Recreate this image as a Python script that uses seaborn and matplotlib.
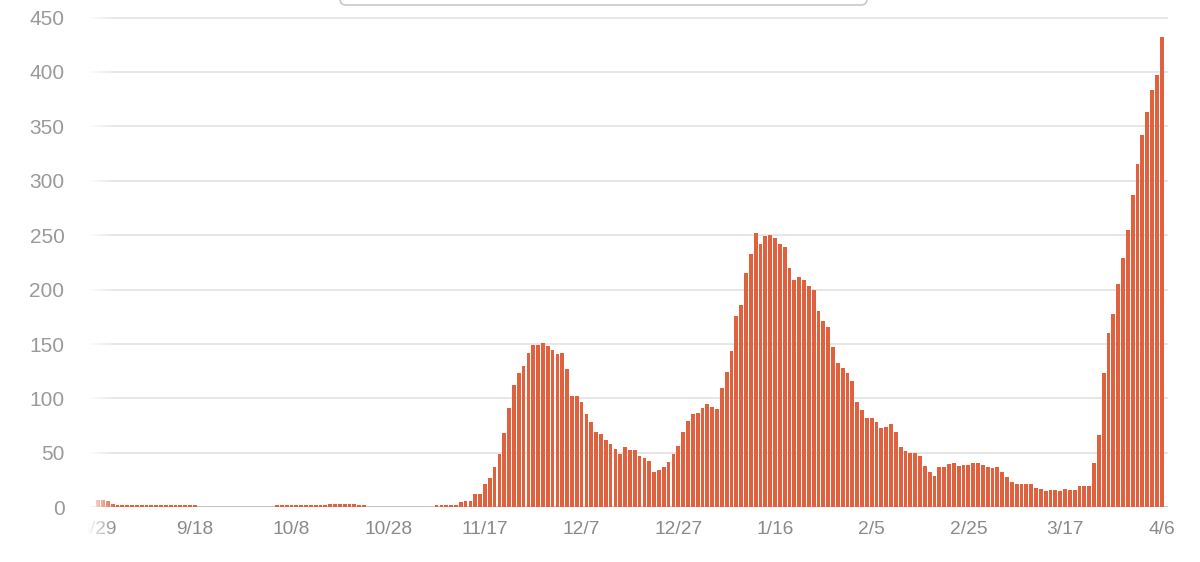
import numpy as np
import pandas as pd
import matplotlib
matplotlib.use("Agg")
import matplotlib.pyplot as plt
import seaborn as sns
from matplotlib.patches import FancyBboxPatch
from matplotlib.transforms import IdentityTransform

# --- data: daily counts 8/29 -> 4/6 ---
start_date = "2021-08-29"
cases = (
    [7, 7, 6, 3]
    + [2] * 17
    + [0] * 16
    + [2] * 11
    + [3] * 6
    + [2] * 2
    + [0] * 14
    + [2] * 5
    # first wave
    + [5, 6, 6, 12, 12, 21, 27, 37, 49, 68, 91, 112, 123, 130, 142, 149, 149,
       151, 148, 145, 141, 142, 127, 102, 102, 97, 86, 78, 69, 67, 62, 58, 54]
    + [49, 55, 53, 53, 47, 45, 43, 32, 34, 37, 42, 49, 56, 69, 79, 86, 87,
       91, 95, 92, 90, 110]
    # second wave
    + [124, 144, 176, 186, 215, 233, 252, 242, 249, 250, 247, 242, 239, 220,
       209, 212, 209, 203]
    + [200, 180, 171, 166, 147, 133, 128, 123, 116, 97, 89, 82, 82, 78, 73,
       74, 77, 69, 55, 52]
    + [50, 50, 47, 38, 32, 29, 37, 37, 40, 41, 38, 39, 39, 41, 41, 39, 37,
       36, 37, 32, 28, 23, 21]
    + [21, 21, 21, 18, 17, 15, 16, 16, 15, 17, 16, 16, 20, 20]
    # third wave
    + [20, 41, 66, 123, 160, 178, 205, 229, 255, 287, 315, 342, 363, 383,
       397, 432]
)
y_ticks = [0, 50, 100, 150, 200, 250, 300, 350, 400, 450]
tick_every = 20

dates = pd.date_range(start_date, periods=len(cases), freq="D")
df = pd.DataFrame({"day": np.arange(len(cases)), "cases": cases})
tick_pos = list(range(0, len(cases), tick_every))
tick_labels = [f"{dates[i].month}/{dates[i].day}" for i in tick_pos]

BAR = "#e1603e"

sns.set_theme(style="white")
plt.rcParams["font.family"] = ["Liberation Sans", "DejaVu Sans"]

W, H = 1200, 562
fig = plt.figure(figsize=(W / 100, H / 100), dpi=100)
fig.patch.set_facecolor("white")
ax = fig.add_axes([88 / W, 54.7 / H, 1080 / W, 491.9 / H])

# 바 그래프 (일별)
sns.barplot(data=df, x="day", y="cases", color=BAR, saturation=1,
            width=0.78, linewidth=0, ax=ax, zorder=3)

ax.set_xlim(-2.1, 221.3)
ax.set_ylim(0, 452)
ax.set_yticks(y_ticks)
ax.set_xticks(tick_pos)
ax.set_xticklabels(tick_labels)
ax.set_xlabel("")
ax.set_ylabel("")
ax.yaxis.grid(True, color="#e4e4e4", linewidth=1.3)
ax.xaxis.grid(False)
ax.set_axisbelow(True)
for s in ax.spines.values():
    s.set_visible(False)
ax.axhline(0, color="#c4c4c4", linewidth=1.4, zorder=2)
ax.tick_params(axis="y", length=0, pad=17, labelsize=15, labelcolor="#9a9a9a")
ax.tick_params(axis="x", length=0, pad=10, labelsize=13.8, labelcolor="#8a8a8a")

# left fade-out of the scrolled chart
fade_w = 45
alpha = np.clip((115 - (70 + np.arange(fade_w))) / (115 - 87), 0, 1)
grad = np.ones((1, fade_w, 4))
grad[0, :, 3] = alpha
fade = fig.add_axes([70 / W, 0, fade_w / W, 1])
fade.imshow(grad, aspect="auto")
fade.axis("off")

# bottom edge of the control box at the top
box = FancyBboxPatch((340, H - 5), 527, 40,
                     boxstyle="round,pad=0,rounding_size=6",
                     transform=IdentityTransform(), facecolor="white",
                     edgecolor="#c9c9c9", linewidth=1.2)
fig.add_artist(box)

fig.savefig("out.png", dpi=100, facecolor="white")
